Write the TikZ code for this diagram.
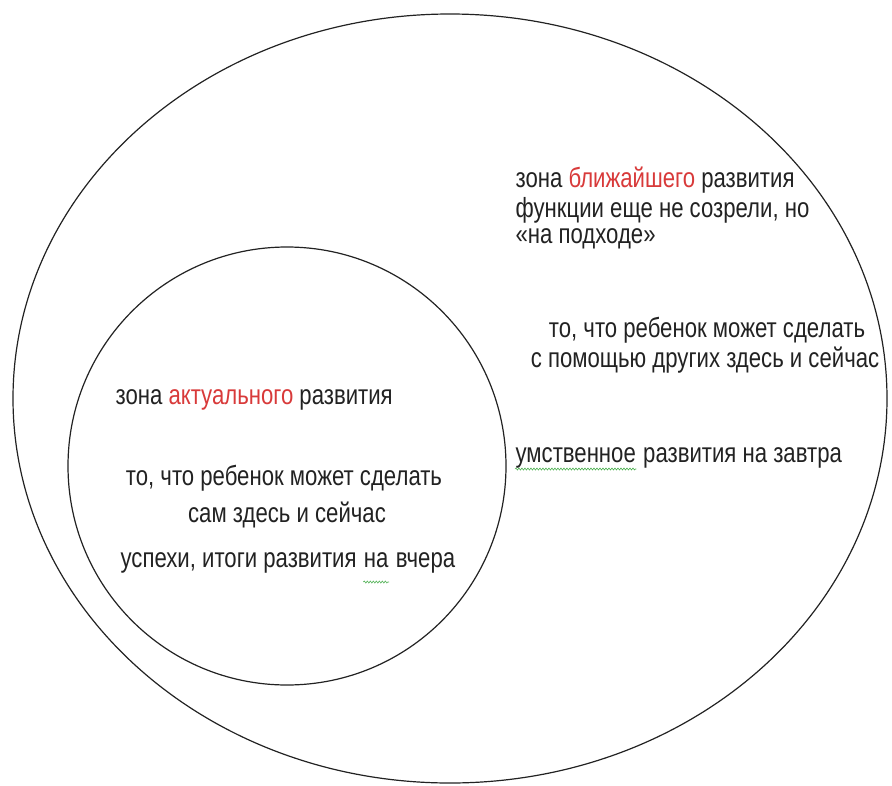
\documentclass[tikz,border=0pt]{standalone}
\usepackage{fontspec}
\setmainfont{Liberation Sans}[FakeStretch=0.8]
\usepackage{xcolor}
\usetikzlibrary{positioning, decorations.pathmorphing}
\definecolor{zonered}{HTML}{D83A3A}
\definecolor{inkgray}{HTML}{222222}
\definecolor{spellgreen}{HTML}{4CAF50}

\begin{document}
\begin{tikzpicture}[x=1pt, y=-1pt, line width=1.2pt,
    zonetext/.style={inner sep=0pt, text=inkgray, font=\fontsize{27.7}{33}\selectfont},
    spellwave/.style={spellgreen, line width=0.6pt, decorate,
        decoration={snake, amplitude=1pt, segment length=3pt}}]
    \useasboundingbox (0,0) rectangle (892,785);

    % Zones
    \coordinate (outerc) at (450,398.5);
    \coordinate (innerc) at (287,466);
    \draw[inkgray] (outerc) ellipse [x radius=437, y radius=384.5];
    \draw[inkgray] (innerc) ellipse [x radius=219, y radius=219];

    % Zone of proximal development
    \node[zonetext, anchor=base west] (near1) at (515,187) {зона \textcolor{zonered}{ближайшего} развития};
    \node[zonetext, anchor=base west] (near2) at (515,217) {функции еще не созрели, но};
    \node[zonetext, anchor=base west] (near3) at (515,243) {«на подходе»};
    \node[zonetext, anchor=base] (near4) at (707,337) {то, что ребенок может сделать};
    \node[zonetext, anchor=base] (near5) at (705,367) {с помощью других здесь и сейчас};
    \node[zonetext, anchor=base west] (tomorrowa) at (515,462) {умственное};
    \node[zonetext, anchor=base west] (tomorrowb) at (tomorrowa.base east) {~развития на завтра};
    \draw[spellwave] ([yshift=-7pt]tomorrowa.base west) -- ([yshift=-7pt]tomorrowa.base east);

    % Zone of actual development
    \node[zonetext, anchor=base west] (actual1) at (115,404) {зона \textcolor{zonered}{актуального} развития};
    \node[zonetext, anchor=base] (actual2) at (284,485) {то, что ребенок может сделать};
    \node[zonetext, anchor=base] (actual3) at (287,522) {сам здесь и сейчас};
    \node[zonetext, anchor=base west] (yesterdaya) at (120,567) {успехи, итоги развития};
    \node[zonetext, anchor=base west] (yesterdayb) at ([xshift=6.2pt]yesterdaya.base east) {на};
    \node[zonetext, anchor=base west] (yesterdayc) at (yesterdayb.base east) {~вчера};
    \draw[spellwave] ([yshift=-15pt]yesterdayb.base west) -- ([yshift=-15pt]yesterdayb.base east);
\end{tikzpicture}
\end{document}
